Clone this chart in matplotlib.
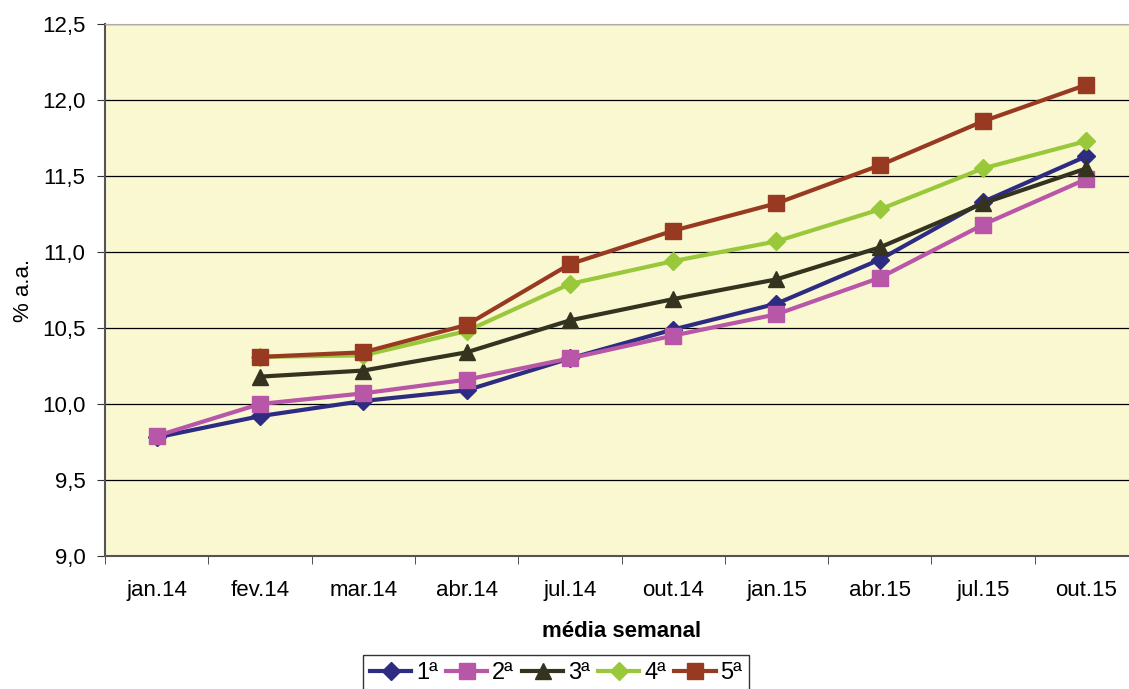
import numpy as np
import matplotlib.pyplot as plt

plt.rcParams['font.family'] = ['Liberation Sans', 'DejaVu Sans']

meses = ['jan.14', 'fev.14', 'mar.14', 'abr.14', 'jul.14',
         'out.14', 'jan.15', 'abr.15', 'jul.15', 'out.15']

serie_1 = [9.78, 9.92, 10.02, 10.09, 10.30, 10.49, 10.66, 10.95, 11.33, 11.63]
serie_2 = [9.79, 10.00, 10.07, 10.16, 10.30, 10.45, 10.59, 10.83, 11.18, 11.48]
serie_3 = [np.nan, 10.18, 10.22, 10.34, 10.55, 10.69, 10.82, 11.03, 11.32, 11.55]
serie_4 = [np.nan, 10.31, 10.32, 10.48, 10.79, 10.94, 11.07, 11.28, 11.55, 11.73]
serie_5 = [np.nan, 10.31, 10.34, 10.52, 10.92, 11.14, 11.32, 11.57, 11.86, 12.10]

nomes = ['1ª', '2ª', '3ª', '4ª', '5ª']
cores = ['#2E2C82', '#B856A8', '#333320', '#99C83A', '#983A22']
marcadores = ['D', 's', '^', 'D', 's']
tamanhos = [9.5, 11.5, 11.5, 9.5, 11.5]

fig = plt.figure(figsize=(11.29, 6.89), dpi=100)
ax = fig.add_axes([105 / 1129, 133 / 689, 1033 / 1129, 532 / 689])
ax.set_facecolor('#FAF8D0')

x = np.arange(len(meses))
series = [serie_1, serie_2, serie_3, serie_4, serie_5]
for vals, nome, cor, mk, ms in zip(series, nomes, cores, marcadores, tamanhos):
    ax.plot(x, vals, color=cor, marker=mk, markersize=ms, linewidth=3.0,
            label=nome, zorder=3)

fs = 16
ax.set_xlim(-0.5, len(meses) - 0.5)
ax.set_ylim(9.0, 12.5)
ax.set_yticks(np.arange(9.0, 12.51, 0.5))
ax.set_yticklabels([f'{v:.1f}'.replace('.', ',') for v in np.arange(9.0, 12.51, 0.5)],
                   fontsize=fs)
ax.yaxis.grid(True, color='black', linewidth=0.9)
ax.set_axisbelow(True)

ax.set_xticks(x)
ax.set_xticklabels(meses, fontsize=fs)
ax.set_xticks(np.arange(-0.5, len(meses), 1), minor=True)
ax.tick_params(axis='x', which='major', length=0, pad=17)
ax.tick_params(axis='x', which='minor', length=6, color='#333333')
ax.tick_params(axis='y', length=6, color='#333333', pad=8)

for lado in ['left', 'bottom']:
    ax.spines[lado].set_color('#555555')
    ax.spines[lado].set_linewidth(1.5)
ax.spines['top'].set_color('#AAAAAA')
ax.spines['right'].set_visible(False)

ax.set_ylabel('% a.a.', fontsize=fs, labelpad=6)
ax.set_xlabel('média semanal', fontsize=fs, fontweight='bold', labelpad=15)

leg = fig.legend(loc='lower center', bbox_to_anchor=(556 / 1129, -0.013), ncol=5,
                 fontsize=fs + 1, frameon=True, fancybox=False, edgecolor='black',
                 handlelength=1.75, handletextpad=0.2, columnspacing=0.35,
                 borderpad=0.3, borderaxespad=0.3)
leg.get_frame().set_linewidth(1.0)

fig.savefig('out.png', dpi=100)
